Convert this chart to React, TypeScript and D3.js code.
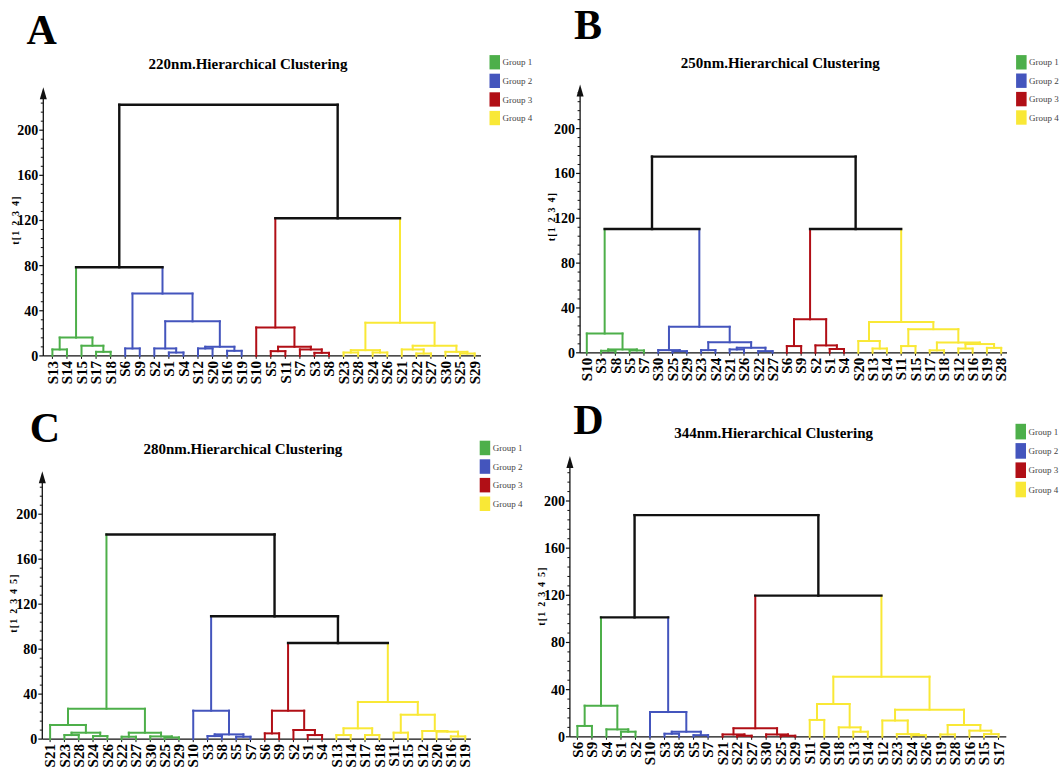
import React from 'react'
import * as d3 from 'd3'

// a node is a leaf name or [left, right, height, group?]
type TreeNode = string | [TreeNode, TreeNode, number, number?]

const groupColors = ['#4daf4a', '#4455bd', '#b10f16', '#f9e836']
const groupLabels = ['Group 1', 'Group 2', 'Group 3', 'Group 4']
const yTicks = [0, 40, 80, 120, 160, 200]

// 220nm
const tree220: TreeNode = [
  [
    [['S13', 'S14', 5.7], ['S15', ['S17', 'S18', 3.6], 9], 16.2, 0],
    [['S6', 'S9', 6.6], [['S2', ['S1', 'S4', 3], 6.6], [['S12', 'S20', 6.6], ['S16', 'S19', 4.5], 8.1], 30.6], 55.2, 1],
    78.6
  ],
  [
    ['S10', [['S5', 'S11', 4.2], ['S7', ['S3', 'S8', 2.7], 5.7], 8.1], 25.2, 2],
    [[['S23', 'S28', 3], ['S24', 'S26', 3], 5.1], [['S21', ['S22', 'S27', 2.1], 5.7], ['S30', ['S25', 'S29', 2.1], 3.6], 9], 29.4, 3],
    122
  ],
  222.5
]

// 250nm
const tree250: TreeNode = [
  [
    ['S10', [['S3', 'S8', 1.8], ['S5', 'S7', 2.1], 3], 17.2, 0],
    [['S30', ['S25', 'S29', 1.5], 2.4], [['S23', 'S24', 2.4], [['S21', 'S26', 3], ['S22', 'S27', 1.5], 4.5], 9.4], 23.2, 1],
    110.4
  ],
  [
    [['S6', 'S9', 6], ['S2', ['S1', 'S4', 3.4], 6.6], 29.9, 2],
    [['S20', ['S13', 'S14', 3.8], 10.5], [['S11', 'S15', 6], [['S17', 'S18', 2.2], [['S12', 'S16', 3.8], ['S19', 'S28', 4.4], 7.8], 9.1], 21.1], 27.5, 3],
    110.4
  ],
  175
]

// 280nm
const tree280: TreeNode = [
  [['S21', [['S23', 'S28', 3.6], ['S24', 'S26', 2.7], 5.7], 12.6], [['S22', 'S27', 2.1], ['S30', ['S25', 'S29', 1.5], 2.4], 5.7], 27, 0],
  [
    ['S10', [['S3', 'S8', 2.7], ['S5', 'S7', 2.1], 4.2], 25.3, 1],
    [
      [['S6', 'S9', 5.1], ['S2', ['S1', 'S4', 3.6], 8.1], 25.3, 2],
      [[['S13', 'S14', 3.6], ['S17', 'S18', 3.6], 9.6], [['S11', 'S15', 5.7], ['S12', ['S20', ['S16', 'S19', 2.4], 6.6], 7.2], 21.7], 33.1, 3],
      85.4
    ],
    109.2
  ],
  182
]

// 344nm
const tree344: TreeNode = [
  [
    [['S6', 'S9', 9.2], ['S4', ['S1', 'S2', 4.3], 6.3], 26.4, 0],
    ['S10', [['S3', 'S8', 2.6], ['S5', 'S7', 1.4], 4.3], 21, 1],
    101.3
  ],
  [
    [['S21', ['S22', 'S27', 0.9], 2], ['S30', ['S25', 'S29', 0.9], 2], 7.2, 2],
    [
      [['S11', 'S20', 14.3], ['S18', ['S13', 'S14', 4.3], 8], 27.8],
      [['S12', ['S23', ['S24', 'S26', 1.4], 2.3], 13.8], [['S19', 'S28', 2], ['S16', ['S15', 'S17', 2.3], 5.2], 10], 23],
      51, 3
    ],
    119.7
  ],
  188
]

const panels = [
  { tree: tree220, letter: 'A', title: '220nm.Hierarchical Clustering', yLabel: 't[1 2 3 4]',
    axisX: 43.3, y0: 355.9, y200: 130.2, top: 87.3, leaf0: 52.4, leaf1: 474.6, axisEnd: 481,
    titleX: 248, titleY: 69.4, letterX: 26.4, letterY: 44, legX: 489.5, legY: 55.1, legStep: 18.6, legH: 14.3, yLabX: 15.2, yLabY: 220 },
  { tree: tree250, letter: 'B', title: '250nm.Hierarchical Clustering', yLabel: 't[1 2 3 4]',
    axisX: 580.1, y0: 352.8, y200: 128.6, top: 84.6, leaf0: 586.8, leaf1: 1001.2, axisEnd: 1007,
    titleX: 780.3, titleY: 68.3, letterX: 574, letterY: 38.9, legX: 1016.1, legY: 55.1, legStep: 18.4, legH: 14.4, yLabX: 551, yLabY: 216.5 },
  { tree: tree280, letter: 'C', title: '280nm.Hierarchical Clustering', yLabel: 't[1 2 3 4 5]',
    axisX: 42.3, y0: 739.1, y200: 514.2, top: 471.2, leaf0: 50.1, leaf1: 465.2, axisEnd: 470.9,
    titleX: 242.9, titleY: 454.3, letterX: 29.8, letterY: 442.4, legX: 479.7, legY: 440.7, legStep: 18.6, legH: 14.5, yLabX: 13.5, yLabY: 603 },
  { tree: tree344, letter: 'D', title: '344nm.Hierarchical Clustering', yLabel: 't[1 2 3 4 5]',
    axisX: 569.9, y0: 736.8, y200: 501, top: 456, leaf0: 577.4, leaf1: 998.5, axisEnd: 1006.3,
    titleX: 773.6, titleY: 438, letterX: 573.3, letterY: 434, legX: 1015.5, legY: 423.8, legStep: 19.3, legH: 15.6, yLabX: 541.8, yLabY: 596 }
]

const SERIF = '"Liberation Serif", "Times New Roman", serif'

function leavesOf(n: TreeNode, out: string[] = []): string[] {
  if (typeof n === 'string') out.push(n)
  else { leavesOf(n[0], out); leavesOf(n[1], out) }
  return out
}

type Seg = { x1: number; y1: number; x2: number; y2: number; c: string; w: number }

function build(n: TreeNode, x: d3.ScalePoint<string>, y: d3.ScaleLinear<number, number>, group: number, segs: Seg[]) {
  if (typeof n === 'string') return { x: x(n)!, h: 0, g: group }
  const g = n[3] ?? group
  const l = build(n[0], x, y, g, segs)
  const r = build(n[1], x, y, g, segs)
  const h = n[2]
  const col = (k: number) => (k < 0 ? '#111' : groupColors[k])
  const wid = (k: number) => (k < 0 ? 2.4 : 2)
  segs.push({ x1: l.x, y1: y(l.h), x2: l.x, y2: y(h), c: col(l.g), w: wid(l.g) })
  segs.push({ x1: r.x, y1: y(r.h), x2: r.x, y2: y(h), c: col(r.g), w: wid(r.g) })
  segs.push({ x1: l.x, y1: y(h), x2: r.x, y2: y(h), c: col(g), w: wid(g) })
  return { x: (l.x + r.x) / 2, h, g }
}

function Panel({ p }: { p: typeof panels[number] }) {
  const leaves = leavesOf(p.tree)
  const x = d3.scalePoint<string>().domain(leaves).range([p.leaf0, p.leaf1])
  const y = d3.scaleLinear().domain([0, 200]).range([p.y0, p.y200])
  const segs: Seg[] = []
  build(p.tree, x, y, -1, segs)
  const maxV = y.invert(p.top + 8)
  const minor = d3.range(0, maxV, 8).filter(v => v % 40 !== 0)
  return (
    <g>
      <text x={p.letterX} y={p.letterY} fontFamily={SERIF} fontWeight="bold" fontSize={42}>{p.letter}</text>
      <text x={p.titleX} y={p.titleY} fontFamily={SERIF} fontWeight="bold" fontSize={15} textAnchor="middle">{p.title}</text>
      {groupLabels.map((g, i) => (
        <g key={g}>
          <rect x={p.legX} y={p.legY + i * p.legStep} width={10.5} height={p.legH} fill={groupColors[i]} />
          <text x={p.legX + 13} y={p.legY + i * p.legStep + p.legH / 2} dy="0.35em" fontFamily={SERIF} fontSize={9} fill="#444">{g}</text>
        </g>
      ))}
      {/* y axis */}
      <line x1={p.axisX} x2={p.axisX} y1={p.y0} y2={p.top + 6} stroke="#111" strokeWidth={1.3} />
      <path d={`M${p.axisX},${p.top} L${p.axisX - 3.5},${p.top + 12} L${p.axisX + 3.5},${p.top + 12} Z`} fill="#111" />
      {minor.map(v => (
        <line key={v} x1={p.axisX - 2.5} x2={p.axisX} y1={y(v)} y2={y(v)} stroke="#111" strokeWidth={1} />
      ))}
      {yTicks.map(v => (
        <g key={v}>
          <line x1={p.axisX - 4} x2={p.axisX} y1={y(v)} y2={y(v)} stroke="#111" strokeWidth={1.2} />
          <text x={p.axisX - 5} y={y(v)} dy="0.35em" textAnchor="end" fontFamily={SERIF} fontWeight="bold" fontSize={14}>{v}</text>
        </g>
      ))}
      <text transform={`translate(${p.yLabX},${p.yLabY}) rotate(-90)`} textAnchor="middle" dy="0.35em"
        fontFamily={SERIF} fontWeight="bold" fontSize={10} letterSpacing={1.2}>{p.yLabel}</text>
      {/* x axis */}
      <line x1={p.axisX} x2={p.axisEnd} y1={p.y0} y2={p.y0} stroke="#111" strokeWidth={1.3} />
      {leaves.map(s => (
        <g key={s}>
          <line x1={x(s)} x2={x(s)} y1={p.y0} y2={p.y0 + 3} stroke="#111" strokeWidth={1} />
          <text transform={`translate(${x(s)},${p.y0 + 5}) rotate(-90)`} textAnchor="end" dy="0.35em"
            fontFamily={SERIF} fontWeight="bold" fontSize={15}>{s}</text>
        </g>
      ))}
      {segs.map((s, i) => (
        <line key={i} x1={s.x1} y1={s.y1} x2={s.x2} y2={s.y2} stroke={s.c} strokeWidth={s.w} strokeLinecap="square" />
      ))}
    </g>
  )
}

export default function App() {
  return (
    <svg width={1061} height={769} style={{ position: 'absolute', left: 0, top: 0, background: '#fff' }}>
      <rect width={1061} height={769} fill="#fff" />
      {panels.map(p => <Panel key={p.letter} p={p} />)}
    </svg>
  )
}
